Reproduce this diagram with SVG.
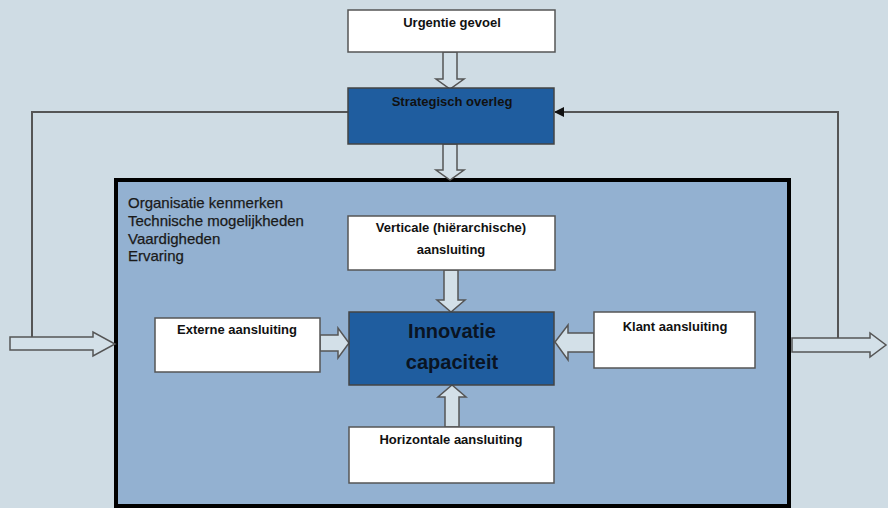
<svg xmlns="http://www.w3.org/2000/svg" width="888" height="508" viewBox="0 0 888 508">
<defs>
<style>
.white{fill:#ffffff;stroke:#555;stroke-width:1.5}
.dark{fill:#1f5d9f;stroke:#444;stroke-width:1.5}
.lbl{font-family:"Liberation Sans",Arial,sans-serif;font-size:13px;font-weight:bold;fill:#111;text-anchor:middle}
.big{font-family:"Liberation Sans",Arial,sans-serif;font-size:20px;font-weight:bold;fill:#0a1422;text-anchor:middle}
.side{font-family:"Liberation Sans",Arial,sans-serif;font-size:15px;fill:#1a1a1a;stroke:#1a1a1a;stroke-width:0.25}
.barrow{fill:#d3e0e8;stroke:#555;stroke-width:1.5;stroke-linejoin:miter}
.line{fill:none;stroke:#555;stroke-width:2}
</style>
<marker id="ah" viewBox="0 0 10 10" refX="9" refY="5" markerWidth="10" markerHeight="10" markerUnits="userSpaceOnUse" orient="auto">
<path d="M0,0 L10,5 L0,10 Z" fill="#111"/>
</marker>
</defs>
<rect width="888" height="508" fill="#cfdce4"/>

<g id="outer">
<rect x="116" y="180" width="673" height="326" fill="#93b1d1" stroke="#000" stroke-width="4"/>
<text class="side" x="128" y="208">Organisatie kenmerken</text>
<text class="side" x="128" y="226">Technische mogelijkheden</text>
<text class="side" x="128" y="244">Vaardigheden</text>
<text class="side" x="128" y="261">Ervaring</text>
</g>

<g id="connectors">
<polyline class="line" points="348,112 32,112 32,338"/>
<polyline class="line" points="838,338 838,112 555,112" marker-end="url(#ah)"/>
<polygon class="barrow" points="443,52 457,52 457,79 464,79 450,89 436,79 443,79"/>
<polygon class="barrow" points="443,144 457,144 457,170 464,170 450,180 436,170 443,170"/>
<polygon class="barrow" points="444,270 458,270 458,300 465,300 451,312 437,300 444,300"/>
<polygon class="barrow" points="445,427 459,427 459,397 466,397 452,385 438,397 445,397"/>
<polygon class="barrow" points="320,335 338,335 338,328 349,343 338,358 338,351 320,351"/>
<polygon class="barrow" points="594,333 568,333 568,325 555,342 568,360 568,352 594,352"/>
<polygon class="barrow" points="10,337 93,337 93,332 115,344 93,356 93,350 10,350"/>
<polygon class="barrow" points="792,338 870,338 870,333 886,345 870,357 870,352 792,352"/>
</g>

<g id="urgentie">
<rect class="white" x="348" y="10" width="207" height="42"/>
<text class="lbl" x="452" y="27">Urgentie gevoel</text>
</g>

<g id="strategisch">
<rect class="dark" x="348" y="88" width="206" height="56"/>
<text class="lbl" x="452" y="106">Strategisch overleg</text>
</g>

<g id="verticale">
<rect class="white" x="348" y="216" width="207" height="54"/>
<text class="lbl" x="451" y="232">Verticale (hiërarchische)</text>
<text class="lbl" x="451" y="254">aansluiting</text>
</g>

<g id="innovatie">
<rect class="dark" x="349" y="312" width="205" height="73"/>
<text class="big" x="452" y="338">Innovatie</text>
<text class="big" x="452" y="369">capaciteit</text>
</g>

<g id="externe">
<rect class="white" x="155" y="318" width="165" height="54"/>
<text class="lbl" x="237" y="334">Externe aansluiting</text>
</g>

<g id="klant">
<rect class="white" x="594" y="312" width="161" height="56"/>
<text class="lbl" x="675" y="331">Klant aansluiting</text>
</g>

<g id="horizontale">
<rect class="white" x="349" y="427" width="205" height="56"/>
<text class="lbl" x="451" y="444">Horizontale aansluiting</text>
</g>
</svg>
